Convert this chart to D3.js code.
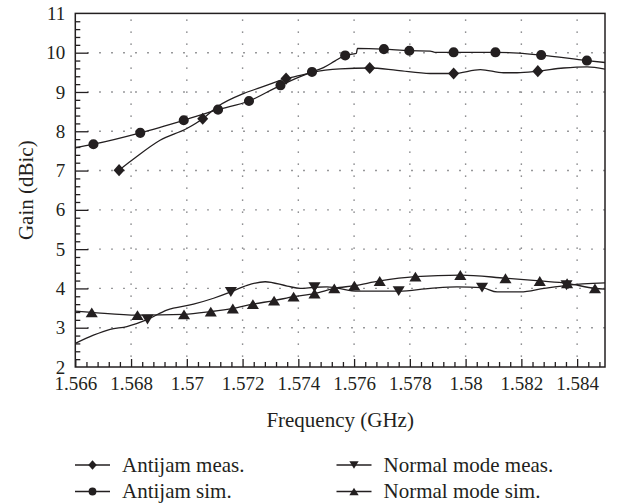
<!DOCTYPE html>
<html>
<head>
<meta charset="utf-8">
<script src="https://cdn.jsdelivr.net/npm/d3@7/dist/d3.min.js"></script>
<style>
  html, body { margin: 0; padding: 0; background: #fff; }
  svg { display: block; }
  text { font-family: "Liberation Serif", "DejaVu Serif", serif; fill: #231f20; }
</style>
</head>
<body>
<svg id="chart" width="617" height="504"></svg>
<script>
// Axis ticks and labels
const freqTicks = [1.566, 1.568, 1.570, 1.572, 1.574, 1.576, 1.578, 1.580, 1.582, 1.584];
const freqTickLabels = ["1.566", "1.568", "1.57", "1.572", "1.574", "1.576", "1.578", "1.58", "1.582", "1.584"];
const gainTicks = [2, 3, 4, 5, 6, 7, 8, 9, 10, 11];

// Antijam measured: marker points and traced curve [frequency GHz, gain dBic]
const antijamMeasMarkers = [
  [1.56757, 7.01], [1.57057, 8.32], [1.57356, 9.34],
  [1.57656, 9.61], [1.57957, 9.47], [1.58259, 9.53]
];
const antijamMeasCurve = [
  [1.56757, 7.01], [1.56803, 7.26], [1.56904, 7.77], [1.57000, 8.07],
  [1.57057, 8.32], [1.57108, 8.62], [1.57203, 8.96], [1.57263, 9.11],
  [1.57356, 9.34], [1.57407, 9.42], [1.57450, 9.50], [1.57550, 9.59],
  [1.57656, 9.61], [1.57754, 9.55], [1.57873, 9.47], [1.57957, 9.47],
  [1.58053, 9.57], [1.58136, 9.49], [1.58185, 9.49], [1.58259, 9.53],
  [1.58351, 9.61], [1.58436, 9.64], [1.58500, 9.58]
];

// Antijam simulated
const antijamSimMarkers = [
  [1.56665, 7.67], [1.56833, 7.96], [1.56989, 8.28], [1.57112, 8.55],
  [1.57223, 8.77], [1.57336, 9.17], [1.57449, 9.51], [1.57568, 9.93],
  [1.57707, 10.09], [1.57798, 10.05], [1.57957, 10.01], [1.58107, 10.01],
  [1.58271, 9.94], [1.58435, 9.80]
];
const antijamSimCurve = [
  [1.56600, 7.58], [1.56665, 7.67], [1.56833, 7.96], [1.56989, 8.28],
  [1.57112, 8.55], [1.57223, 8.77], [1.57336, 9.17], [1.57449, 9.51],
  [1.57490, 9.62], [1.57532, 9.79], [1.57568, 9.93], [1.57608, 9.98],
  [1.57612, 10.11], [1.57707, 10.09], [1.57798, 10.05], [1.57873, 10.04],
  [1.57890, 10.01], [1.57957, 10.01], [1.58107, 10.01], [1.58190, 9.99],
  [1.58271, 9.94], [1.58435, 9.80], [1.58500, 9.75]
];

// Normal mode measured
const normalMeasMarkers = [
  [1.56859, 3.21], [1.57158, 3.91], [1.57458, 4.03],
  [1.57760, 3.93], [1.58059, 4.02], [1.58362, 4.08]
];
const normalMeasCurve = [
  [1.56600, 2.60], [1.56665, 2.81], [1.56725, 2.96], [1.56785, 3.03],
  [1.56859, 3.21], [1.56928, 3.45], [1.57024, 3.60], [1.57096, 3.75],
  [1.57158, 3.91], [1.57216, 4.08], [1.57281, 4.17], [1.57360, 4.06],
  [1.57407, 4.00], [1.57458, 4.03], [1.57503, 4.04], [1.57615, 3.93],
  [1.57760, 3.93], [1.57873, 4.00], [1.57969, 4.04], [1.58059, 4.02],
  [1.58113, 3.91], [1.58197, 3.91], [1.58281, 4.00], [1.58362, 4.08],
  [1.58500, 4.14]
];

// Normal mode simulated
const normalSimMarkers = [
  [1.56659, 3.39], [1.56823, 3.32], [1.56990, 3.34], [1.57086, 3.41],
  [1.57165, 3.49], [1.57237, 3.60], [1.57313, 3.69], [1.57383, 3.79],
  [1.57458, 3.87], [1.57529, 4.00], [1.57601, 4.07], [1.57692, 4.19],
  [1.57820, 4.30], [1.57981, 4.34], [1.58143, 4.26], [1.58266, 4.19],
  [1.58364, 4.13], [1.58464, 4.00]
];
const normalSimCurve = [
  [1.56600, 3.42], [1.56659, 3.39], [1.56823, 3.32], [1.56990, 3.34],
  [1.57086, 3.41], [1.57165, 3.49], [1.57237, 3.60], [1.57313, 3.69],
  [1.57383, 3.79], [1.57458, 3.87], [1.57529, 4.00], [1.57601, 4.07],
  [1.57692, 4.19], [1.57820, 4.30], [1.57981, 4.34], [1.58143, 4.26],
  [1.58266, 4.19], [1.58364, 4.13], [1.58464, 4.00], [1.58500, 3.98]
];

const series = [
  { name: "Antijam meas.", curve: antijamMeasCurve, markers: antijamMeasMarkers, symbol: "diamond" },
  { name: "Antijam sim.", curve: antijamSimCurve, markers: antijamSimMarkers, symbol: "circle" },
  { name: "Normal mode meas.", curve: normalMeasCurve, markers: normalMeasMarkers, symbol: "down" },
  { name: "Normal mode sim.", curve: normalSimCurve, markers: normalSimMarkers, symbol: "up" }
];

const ink = "#231f20";
const svg = d3.select("#chart");
const plot = { left: 75.3, right: 605, top: 13.4, bottom: 367 };

const x = d3.scaleLinear().domain([1.566, 1.585]).range([plot.left, plot.right]);
const y = d3.scaleLinear().domain([2, 11]).range([plot.bottom, plot.top]);

// marker path generator, centred on the origin
function symbolPath(kind, s) {
  if (kind === "diamond") {
    return `M0,${-s * 0.55}L${s * 0.5},0L0,${s * 0.55}L${-s * 0.5},0Z`;
  }
  if (kind === "circle") {
    return d3.symbol(d3.symbolCircle, Math.PI * (s * 0.46) * (s * 0.46))();
  }
  const h = s * 0.9, w = s * 0.55;
  if (kind === "down") return `M${-w},${-h / 2}L${w},${-h / 2}L0,${h / 2}Z`;
  return `M${-w},${h / 2}L${w},${h / 2}L0,${-h / 2}Z`;
}

// dotted grid
const grid = svg.append("g").attr("stroke", "#6d6e71").attr("stroke-width", 1.4)
  .attr("stroke-dasharray", "1.4,10.6").attr("stroke-linecap", "butt");
grid.selectAll("line.h").data(gainTicks.filter(v => v > 2 && v < 11)).join("line")
  .attr("class", "h")
  .attr("x1", plot.left + 12).attr("x2", plot.right)
  .attr("y1", d => y(d)).attr("y2", d => y(d));
grid.selectAll("line.v").data(freqTicks.filter(v => v > 1.566)).join("line")
  .attr("class", "v")
  .attr("x1", d => x(d)).attr("x2", d => x(d))
  .attr("y1", plot.top + 6).attr("y2", plot.bottom);

// clip region for curves
svg.append("clipPath").attr("id", "plotClip").append("rect")
  .attr("x", plot.left).attr("y", plot.top)
  .attr("width", plot.right - plot.left).attr("height", plot.bottom - plot.top);

const line = d3.line().x(d => x(d[0])).y(d => y(d[1])).curve(d3.curveMonotoneX);

const curves = svg.append("g").attr("clip-path", "url(#plotClip)");
curves.selectAll("path").data(series).join("path")
  .attr("d", d => line(d.curve))
  .attr("fill", "none").attr("stroke", ink).attr("stroke-width", 1.3);

// markers
series.forEach(s => {
  svg.append("g").selectAll("path").data(s.markers).join("path")
    .attr("transform", d => `translate(${x(d[0])},${y(d[1])})`)
    .attr("d", symbolPath(s.symbol, 11))
    .attr("fill", ink);
});

// axes: bottom
const minorFreq = d3.range(0, 48).map(i => 1.566 + i * 0.0004).filter(v => v <= 1.585 && !freqTicks.some(t => Math.abs(t - v) < 1e-6));
const minorGain = d3.range(0, 46).map(i => 2 + i * 0.2).filter(v => v <= 11 && Math.abs(v - Math.round(v)) > 1e-6);

const xAxis = svg.append("g").attr("transform", `translate(0,${plot.bottom})`)
  .call(d3.axisBottom(x).tickValues(freqTicks).tickSize(-8).tickPadding(9.5)
    .tickFormat((d, i) => freqTickLabels[i]));
xAxis.select(".domain").remove();
xAxis.selectAll("line").attr("stroke", ink).attr("stroke-width", 1.3);
xAxis.selectAll("text").attr("font-size", 19).attr("fill", ink)
  .attr("font-family", "Liberation Serif, serif");

const xMinor = svg.append("g").attr("transform", `translate(0,${plot.bottom})`)
  .call(d3.axisBottom(x).tickValues(minorFreq).tickSize(-5).tickFormat(""));
xMinor.select(".domain").remove();
xMinor.selectAll("line").attr("stroke", ink).attr("stroke-width", 1.3);

// axes: left
const yAxis = svg.append("g").attr("transform", `translate(${plot.left},0)`)
  .call(d3.axisLeft(y).tickValues(gainTicks).tickSize(-13).tickPadding(10));
yAxis.select(".domain").remove();
yAxis.selectAll("line").attr("stroke", ink).attr("stroke-width", 1.3);
yAxis.selectAll(".tick").filter(d => d === 2 || d === 11).select("line").remove();
yAxis.selectAll("text").attr("font-size", 19).attr("fill", ink)
  .attr("font-family", "Liberation Serif, serif");

const yMinor = svg.append("g").attr("transform", `translate(${plot.left},0)`)
  .call(d3.axisLeft(y).tickValues(minorGain).tickSize(-5).tickFormat(""));
yMinor.select(".domain").remove();
yMinor.selectAll("line").attr("stroke", ink).attr("stroke-width", 1.3);

// frame
svg.append("rect")
  .attr("x", plot.left).attr("y", plot.top)
  .attr("width", plot.right - plot.left).attr("height", plot.bottom - plot.top)
  .attr("fill", "none").attr("stroke", ink).attr("stroke-width", 1.5);

// axis titles
svg.append("text")
  .attr("x", (plot.left + plot.right) / 2).attr("y", 427)
  .attr("text-anchor", "middle").attr("font-size", 21)
  .text("Frequency (GHz)");
svg.append("text")
  .attr("transform", `translate(33,${(plot.top + plot.bottom) / 2}) rotate(-90)`)
  .attr("text-anchor", "middle").attr("font-size", 21)
  .text("Gain (dBic)");

// legend
const legendPos = [
  { x: 75, y: 465 }, { x: 75, y: 491.5 },
  { x: 336.5, y: 465 }, { x: 336.5, y: 491.5 }
];
const legend = svg.append("g");
series.forEach((s, i) => {
  const p = legendPos[i];
  const g = legend.append("g").attr("transform", `translate(${p.x},${p.y})`);
  g.append("line").attr("x1", 0).attr("x2", 35).attr("y1", 0).attr("y2", 0)
    .attr("stroke", ink).attr("stroke-width", 1.5);
  g.append("path").attr("transform", "translate(17.5,0)")
    .attr("d", symbolPath(s.symbol, 8.5)).attr("fill", ink);
  g.append("text").attr("x", 47).attr("y", 0).attr("dy", "0.33em")
    .attr("font-size", 21).text(s.name);
});
</script>
</body>
</html>
